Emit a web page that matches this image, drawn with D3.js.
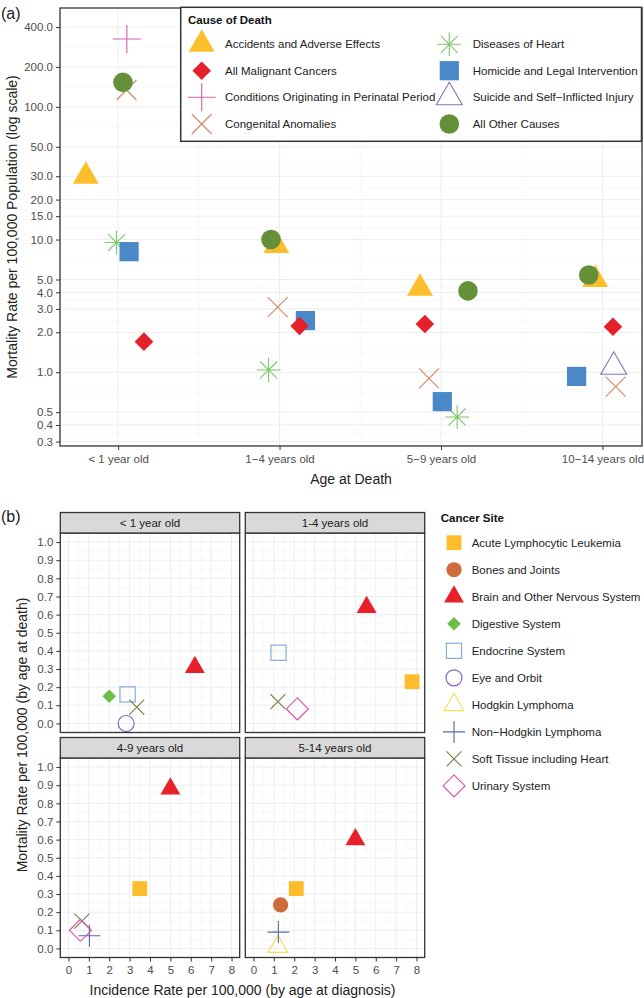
<!DOCTYPE html>
<html>
<head>
<meta charset="utf-8">
<script src="https://cdn.jsdelivr.net/npm/d3@7"></script>
<style>
  body { margin: 0; background: #fff; }
  svg { display: block; font-family: "Liberation Sans", Arial, Helvetica, sans-serif; }
</style>
</head>
<body>
<svg id="chart" width="644" height="998"></svg>
<script>
// ---------------- DATA (panel a) ----------------
const ageGroups = ["< 1 year old", "1\u22124 years old", "5\u22129 years old", "10\u221214 years old"];
const yTicksA = [0.3, 0.4, 0.5, 1, 2, 3, 4, 5, 10, 15, 20, 30, 50, 100, 200, 400];
const causes = ["Accidents and Adverse Effects", "All Malignant Cancers", "Conditions Originating in Perinatal Period",
  "Congenital Anomalies", "Diseases of Heart", "Homicide and Legal Intervention",
  "Suicide and Self\u2212Inflicted Injury", "All Other Causes"];
const accidents  = [30, 9.0, 4.3, 5.0];
const malignant  = [1.7, 2.23, 2.31, 2.2];
const perinatal  = [325, null, null, null];
const congenital = [134, 3.1, 0.9, 0.78];
const heart      = [9.5, 1.04, 0.46, null];
const homicide   = [8.1, 2.45, 0.6, 0.93];
const suicide    = [null, null, null, 1.1];
const otherCauses = [153, 10.0, 4.1, 5.4];
// horizontal jitter (in age-group units)
const accidentsJit  = [-0.20, -0.02, -0.13, -0.045];
const malignantJit  = [0.16, 0.124, -0.10, 0.065];
const perinatalJit  = [0.054, 0, 0, 0];
const congenitalJit = [0.052, -0.012, -0.074, 0.082];
const heartJit      = [-0.01, -0.068, 0.10, 0];
const homicideJit   = [0.068, 0.16, 0.008, -0.16];
const suicideJit    = [0, 0, 0, 0.07];
const otherJit      = [0.03, -0.053, 0.167, -0.085];

// ---------------- DATA (panel b) ----------------
const panelsB = ["< 1 year old", "1-4 years old", "4-9 years old", "5-14 years old"];
const xTicksB = [0, 1, 2, 3, 4, 5, 6, 7, 8];
const yTicksB = [0, 0.1, 0.2, 0.3, 0.4, 0.5, 0.6, 0.7, 0.8, 0.9, 1.0];
const sites = ["Acute Lymphocytic Leukemia", "Bones and Joints", "Brain and Other Nervous System",
  "Digestive System", "Endocrine System", "Eye and Orbit", "Hodgkin Lymphoma",
  "Non\u2212Hodgkin Lymphoma", "Soft Tissue including Heart", "Urinary System"];
const allInc   = [null, 7.78, 3.5, 2.1],  allMort   = [null, 0.23, 0.33, 0.33];
const bonesInc = [null, null, null, 1.33], bonesMort = [null, null, null, 0.24];
const brainInc = [6.2, 5.55, 5.0, 5.0],  brainMort = [0.31, 0.64, 0.88, 0.60];
const digInc   = [2.0, null, null, null], digMort   = [0.15, null, null, null];
const endoInc  = [2.9, 1.23, null, null], endoMort = [0.16, 0.39, null, null];
const eyeInc   = [2.83, null, null, null], eyeMort  = [0.0, null, null, null];
const hodgInc  = [null, null, null, 1.2], hodgMort  = [null, null, null, 0.01];
const nhlInc   = [null, null, 1.03, 1.22], nhlMort  = [null, null, 0.07, 0.09];
const softInc  = [3.35, 1.2, 0.66, null], softMort  = [0.09, 0.12, 0.15, null];
const urinInc  = [null, 2.15, 0.59, null], urinMort = [null, 0.08, 0.10, null];

// ---------------- STYLE ----------------
const causeStyle = [
  {shape: "triF", s: 15, c: "#FDBE2B"},
  {shape: "diaF", s: 9.3, c: "#E5202A"},
  {shape: "plus", s: 14, c: "#D35DB2"},
  {shape: "cross", s: 10, c: "#D4875E"},
  {shape: "star", s: 12, c: "#7CC86A"},
  {shape: "sqF", s: 9.6, c: "#4A88C8"},
  {shape: "triO", s: 15, c: "#8C70B5"},
  {shape: "cirF", s: 9.8, c: "#64903A"}
];
const siteStyle = [
  {shape: "sqF", s: 7.4, c: "#FDBC2A"},
  {shape: "cirF", s: 7.6, c: "#CF6A3B"},
  {shape: "triF", s: 11.5, c: "#E8202A"},
  {shape: "diaF", s: 6.8, c: "#6DBE48"},
  {shape: "sqO", s: 7.6, c: "#7AA6D6"},
  {shape: "cirO", s: 8, c: "#7E5DB8"},
  {shape: "triO", s: 11.5, c: "#F1E05A"},
  {shape: "plus", s: 11, c: "#5A67AE"},
  {shape: "cross", s: 7.5, c: "#727E45"},
  {shape: "diaO", s: 11, c: "#DA4AA6"}
];

function drawShape(g, st, x, y) {
  const s = st.s, c = st.c;
  const t = g.append("g").attr("transform", `translate(${x},${y})`);
  const tri = `M0,${-s}L${s*0.866},${s/2}L${-s*0.866},${s/2}Z`;
  const dia = `M0,${-s}L${s},0L0,${s}L${-s},0Z`;
  switch (st.shape) {
    case "triF": t.append("path").attr("d", tri).attr("fill", c); break;
    case "triO": t.append("path").attr("d", tri).attr("fill", "none").attr("stroke", c).attr("stroke-width", 1.1); break;
    case "diaF": t.append("path").attr("d", dia).attr("fill", c); break;
    case "diaO": t.append("path").attr("d", dia).attr("fill", "none").attr("stroke", c).attr("stroke-width", 1.1); break;
    case "sqF": t.append("rect").attr("x", -s).attr("y", -s).attr("width", 2*s).attr("height", 2*s).attr("fill", c); break;
    case "sqO": t.append("rect").attr("x", -s).attr("y", -s).attr("width", 2*s).attr("height", 2*s).attr("fill", "none").attr("stroke", c).attr("stroke-width", 1.1); break;
    case "cirF": t.append("circle").attr("r", s).attr("fill", c); break;
    case "cirO": t.append("circle").attr("r", s).attr("fill", "none").attr("stroke", c).attr("stroke-width", 1.1); break;
    case "plus": t.append("path").attr("d", `M${-s},0H${s}M0,${-s}V${s}`).attr("stroke", c).attr("stroke-width", 1.1).attr("fill", "none"); break;
    case "cross": t.append("path").attr("d", `M${-s},${-s}L${s},${s}M${-s},${s}L${s},${-s}`).attr("stroke", c).attr("stroke-width", 1.1).attr("fill", "none"); break;
    case "star": {
      const d = s * 0.7071;
      t.append("path").attr("d", `M${-s},0H${s}M0,${-s}V${s}M${-d},${-d}L${d},${d}M${-d},${d}L${d},${-d}`)
        .attr("stroke", c).attr("stroke-width", 1.1).attr("fill", "none");
      break;
    }
  }
}

const svg = d3.select("#chart");
svg.append("rect").attr("width", 644).attr("height", 998).attr("fill", "#fff");

const gridMajor = "#ebebeb", gridMinor = "#f3f3f3", frame = "#333333", tickTxt = "#4d4d4d";

// ================= PANEL (a) =================
const A = {l: 60, r: 642, t: 8, b: 446};
const xA = d3.scaleLinear().domain([0.64, 4.245]).range([A.l, A.r]);
const yA = d3.scaleLog().domain([0.278, 556]).range([A.b, A.t]);
const gA = svg.append("g");

// minor grid
for (let i = 0; i < yTicksA.length - 1; i++) {
  const v = Math.sqrt(yTicksA[i] * yTicksA[i + 1]);
  gA.append("line").attr("x1", A.l).attr("x2", A.r).attr("y1", yA(v)).attr("y2", yA(v))
    .attr("stroke", gridMinor).attr("stroke-width", 0.6);
}
for (let i = 0; i < ageGroups.length - 1; i++) {
  const v = i + 1.5;
  gA.append("line").attr("y1", A.t).attr("y2", A.b).attr("x1", xA(v)).attr("x2", xA(v))
    .attr("stroke", gridMinor).attr("stroke-width", 0.6);
}
// major grid
yTicksA.forEach(v => gA.append("line").attr("x1", A.l).attr("x2", A.r).attr("y1", yA(v)).attr("y2", yA(v))
  .attr("stroke", gridMajor).attr("stroke-width", 0.9));
ageGroups.forEach((a, i) => gA.append("line").attr("y1", A.t).attr("y2", A.b).attr("x1", xA(i + 1)).attr("x2", xA(i + 1))
  .attr("stroke", gridMajor).attr("stroke-width", 0.9));

// points
const causeVals = [accidents, malignant, perinatal, congenital, heart, homicide, suicide, otherCauses];
const causeJit = [accidentsJit, malignantJit, perinatalJit, congenitalJit, heartJit, homicideJit, suicideJit, otherJit];
const drawOrder = [0, 2, 3, 4, 5, 6, 1, 7];
drawOrder.forEach(ci => {
  causeVals[ci].forEach((v, ai) => {
    if (v == null) return;
    drawShape(gA, causeStyle[ci], xA(ai + 1 + causeJit[ci][ai]), yA(v));
  });
});

// frame
gA.append("rect").attr("x", A.l).attr("y", A.t).attr("width", A.r - A.l).attr("height", A.b - A.t)
  .attr("fill", "none").attr("stroke", frame).attr("stroke-width", 1.3);

// y axis
const yAxisA = d3.axisLeft(yA).tickValues(yTicksA).tickFormat(d3.format(".1f")).tickSize(4).tickPadding(3);
const yaG = gA.append("g").attr("transform", `translate(${A.l},0)`).call(yAxisA);
yaG.select(".domain").remove();
yaG.selectAll("line").attr("stroke", frame);
yaG.selectAll("text").attr("fill", tickTxt).attr("font-size", 11.5).attr("font-family", "Liberation Sans, Arial, sans-serif");
// x axis
const xAxisA = d3.axisBottom(xA).tickValues([1, 2, 3, 4]).tickFormat((d) => ageGroups[d - 1]).tickSize(4).tickPadding(5);
const xaG = gA.append("g").attr("transform", `translate(0,${A.b})`).call(xAxisA);
xaG.select(".domain").remove();
xaG.selectAll("line").attr("stroke", frame);
xaG.selectAll("text").attr("fill", tickTxt).attr("font-size", 11.5).attr("font-family", "Liberation Sans, Arial, sans-serif");

gA.append("text").attr("x", (A.l + A.r) / 2).attr("y", 484).attr("text-anchor", "middle")
  .attr("font-size", 14).attr("fill", "#222").text("Age at Death");
gA.append("text").attr("transform", `translate(17,${(A.t + A.b) / 2}) rotate(-90)`).attr("text-anchor", "middle")
  .attr("font-size", 14).attr("fill", "#222").text("Mortality Rate per 100,000 Population (log scale)");
svg.append("text").attr("x", 1).attr("y", 19).attr("font-size", 16).attr("fill", "#222").text("(a)");

// legend (a)
const LA = {x: 180.7, y: 7.3, w: 460.8, h: 134};
const lgA = svg.append("g");
lgA.append("rect").attr("x", LA.x).attr("y", LA.y).attr("width", LA.w).attr("height", LA.h)
  .attr("fill", "#fff").attr("stroke", frame).attr("stroke-width", 1.5);
lgA.append("text").attr("x", 188).attr("y", 24).attr("font-size", 11.5).attr("font-weight", "bold").attr("fill", "#111").text("Cause of Death");
const rowYA = [44.3, 70.7, 97.3, 124];
causes.forEach((c, i) => {
  const col = Math.floor(i / 4), row = i % 4;
  const mx = col === 0 ? 201.7 : 449.3, tx = col === 0 ? 225 : 472.7;
  drawShape(lgA, causeStyle[i], mx, rowYA[row]);
  lgA.append("text").attr("x", tx).attr("y", rowYA[row]).attr("dy", "0.35em").attr("font-size", 11.5).attr("fill", "#222").text(c);
});

// ================= PANEL (b) =================
svg.append("text").attr("x", 1).attr("y", 522).attr("font-size", 16).attr("fill", "#222").text("(b)");
const cols = [{l: 60.3, r: 239.7}, {l: 245.3, r: 424.7}];
const rows = [{st: 512.5, t: 533, b: 732.5}, {st: 737.5, t: 758, b: 957.5}];
const gB = svg.append("g");
const siteInc = [allInc, bonesInc, brainInc, digInc, endoInc, eyeInc, hodgInc, nhlInc, softInc, urinInc];
const siteMort = [allMort, bonesMort, brainMort, digMort, endoMort, eyeMort, hodgMort, nhlMort, softMort, urinMort];

panelsB.forEach((p, pi) => {
  const c = cols[pi % 2], r = rows[Math.floor(pi / 2)];
  const x = d3.scaleLinear().domain([-0.4, 8.4]).range([c.l, c.r]);
  const y = d3.scaleLinear().domain([-0.05, 1.05]).range([r.b, r.t]);
  const g = gB.append("g");
  // minor grid
  for (let i = 0; i < xTicksB.length - 1; i++) {
    const v = xTicksB[i] + 0.5;
    g.append("line").attr("x1", x(v)).attr("x2", x(v)).attr("y1", r.t).attr("y2", r.b).attr("stroke", gridMinor).attr("stroke-width", 0.6);
  }
  for (let i = 0; i < yTicksB.length - 1; i++) {
    const v = yTicksB[i] + 0.05;
    g.append("line").attr("y1", y(v)).attr("y2", y(v)).attr("x1", c.l).attr("x2", c.r).attr("stroke", gridMinor).attr("stroke-width", 0.6);
  }
  xTicksB.forEach(v => g.append("line").attr("x1", x(v)).attr("x2", x(v)).attr("y1", r.t).attr("y2", r.b).attr("stroke", gridMajor).attr("stroke-width", 0.9));
  yTicksB.forEach(v => g.append("line").attr("y1", y(v)).attr("y2", y(v)).attr("x1", c.l).attr("x2", c.r).attr("stroke", gridMajor).attr("stroke-width", 0.9));

  sites.forEach((s, si) => {
    const xi = siteInc[si][pi], yi = siteMort[si][pi];
    if (xi == null || yi == null) return;
    drawShape(g, siteStyle[si], x(xi), y(yi));
  });

  g.append("rect").attr("x", c.l).attr("y", r.t).attr("width", c.r - c.l).attr("height", r.b - r.t)
    .attr("fill", "none").attr("stroke", frame).attr("stroke-width", 1.3);
  // strip
  g.append("rect").attr("x", c.l).attr("y", r.st).attr("width", c.r - c.l).attr("height", r.t - r.st)
    .attr("fill", "#d9d9d9").attr("stroke", frame).attr("stroke-width", 1.3);
  g.append("text").attr("x", (c.l + c.r) / 2).attr("y", (r.st + r.t) / 2).attr("dy", "0.35em").attr("text-anchor", "middle")
    .attr("font-size", 11.5).attr("fill", "#1a1a1a").text(p);

  if (pi % 2 === 0) {
    const ya = g.append("g").attr("transform", `translate(${c.l},0)`)
      .call(d3.axisLeft(y).tickValues(yTicksB).tickFormat(d3.format(".1f")).tickSize(4).tickPadding(3));
    ya.select(".domain").remove();
    ya.selectAll("line").attr("stroke", frame);
    ya.selectAll("text").attr("fill", tickTxt).attr("font-size", 11.5).attr("font-family", "Liberation Sans, Arial, sans-serif");
  }
  if (pi >= 2) {
    const xa = g.append("g").attr("transform", `translate(0,${r.b})`)
      .call(d3.axisBottom(x).tickValues(xTicksB).tickFormat(d3.format("d")).tickSize(4).tickPadding(4));
    xa.select(".domain").remove();
    xa.selectAll("line").attr("stroke", frame);
    xa.selectAll("text").attr("fill", tickTxt).attr("font-size", 11.5).attr("font-family", "Liberation Sans, Arial, sans-serif");
  }
});

gB.append("text").attr("x", (cols[0].l + cols[1].r) / 2).attr("y", 995).attr("text-anchor", "middle")
  .attr("font-size", 14).attr("fill", "#222").text("Incidence Rate per 100,000 (by age at diagnosis)");
gB.append("text").attr("transform", `translate(27,${(rows[0].st + rows[1].b) / 2}) rotate(-90)`).attr("text-anchor", "middle")
  .attr("font-size", 14).attr("fill", "#222").text("Mortality Rate per 100,000 (by age at death)");

// legend (b)
const lgB = svg.append("g");
lgB.append("text").attr("x", 440.7).attr("y", 521.5).attr("font-size", 11.5).attr("font-weight", "bold").attr("fill", "#111").text("Cancer Site");
sites.forEach((s, i) => {
  const yy = 542.7 + i * 27.03;
  drawShape(lgB, siteStyle[i], 454, yy);
  lgB.append("text").attr("x", 471.7).attr("y", yy).attr("dy", "0.35em").attr("font-size", 11.5).attr("fill", "#222").text(s);
});
</script>
</body>
</html>
